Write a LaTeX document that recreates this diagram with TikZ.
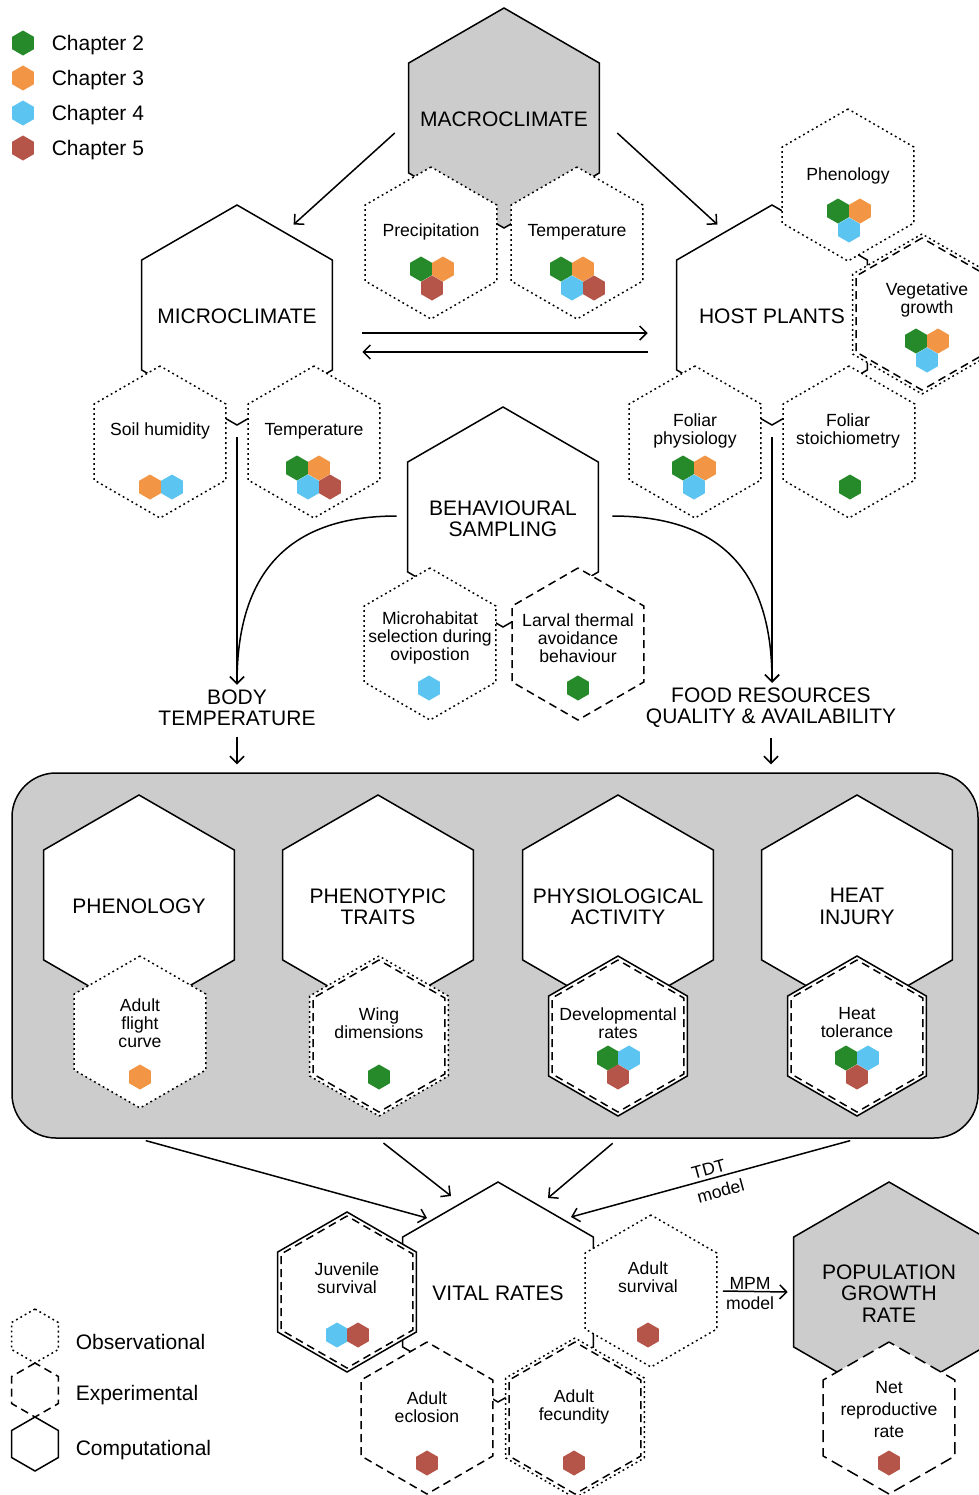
\documentclass[tikz,border=0pt]{standalone}
\usepackage{fontspec}
\setmainfont{Liberation Sans}
\usetikzlibrary{shapes.geometric,arrows.meta}
\definecolor{ctwo}{HTML}{268A2B}
\definecolor{cthree}{HTML}{F29545}
\definecolor{cfour}{HTML}{5BC4F1}
\definecolor{cfive}{HTML}{B5554A}
\definecolor{shade}{HTML}{CCCCCC}
\begin{document}
\begin{tikzpicture}[x=0.5pt,y=-0.5pt,line width=0.75pt,>={Straight Barb[length=3.5pt,width=7pt]},
hex/.style={regular polygon,regular polygon sides=6,shape border rotate=30,inner sep=0pt,outer sep=0pt},
bighex/.style={hex,draw,fill=white,minimum size=110pt},
smallhex/.style={hex,draw,fill=white,minimum size=76pt},
outerhex/.style={smallhex,minimum size=80pt},
obs/.style={dash pattern=on 0.9pt off 1.6pt},
expt/.style={dash pattern=on 4pt off 2.5pt},
chap/.style={hex,minimum size=12.5pt},
keyhex/.style={hex,draw,minimum size=27pt},
lab/.style={align=center,inner sep=0pt,yshift=-1pt,font=\fontsize{8.8}{9}\selectfont},
title/.style={align=center,inner sep=2pt,yshift=-0.8pt,font=\fontsize{10.5}{10.8}\selectfont}]

\useasboundingbox (0,0) rectangle (979,1495);

\draw (23,43) node[chap,fill=ctwo] (k2) {};
\draw (23,78) node[chap,fill=cthree] (k3) {};
\draw (23,113) node[chap,fill=cfour] (k4) {};
\draw (23,148) node[chap,fill=cfive] (k5) {};
\draw (47,43) node[title,anchor=west] (k2t) {Chapter 2};
\draw (47,78) node[title,anchor=west] (k3t) {Chapter 3};
\draw (47,113) node[title,anchor=west] (k4t) {Chapter 4};
\draw (47,148) node[title,anchor=west] (k5t) {Chapter 5};

\draw (504,118) node[bighex,fill=shade] (macro) {};
\draw (macro) node[title] (macrot) {MACROCLIMATE};
\draw (431,243) node[smallhex,obs] (precip) {};
\draw (577,243) node[smallhex,obs] (mtemp) {};
\draw (431,230) node[lab] (precipt) {Precipitation};
\draw (577,230) node[lab] (mtempt) {Temperature};
\draw (421,269) node[chap,fill=ctwo] (pr1) {};
\draw (443,269) node[chap,fill=cthree] (pr2) {};
\draw (432,288) node[chap,fill=cfive] (pr3) {};
\draw (561,269) node[chap,fill=ctwo] (mt1) {};
\draw (583,269) node[chap,fill=cthree] (mt2) {};
\draw (572,288) node[chap,fill=cfour] (mt3) {};
\draw (594,288) node[chap,fill=cfive] (mt4) {};

\draw (237,315) node[bighex] (micro) {};
\draw (micro) node[title] (microt) {MICROCLIMATE};
\draw (160,442) node[smallhex,obs] (soil) {};
\draw (314,442) node[smallhex,obs] (ctemp) {};
\draw (160,429) node[lab] (soilt) {Soil humidity};
\draw (314,429) node[lab] (ctempt) {Temperature};
\draw (150,487) node[chap,fill=cthree] (so1) {};
\draw (172,487) node[chap,fill=cfour] (so2) {};
\draw (297,468) node[chap,fill=ctwo] (ct1) {};
\draw (319,468) node[chap,fill=cthree] (ct2) {};
\draw (308,487) node[chap,fill=cfour] (ct3) {};
\draw (330,487) node[chap,fill=cfive] (ct4) {};

\draw (772,315) node[bighex] (host) {};
\draw (host) node[title] (hostt) {HOST PLANTS};
\draw (848,185) node[smallhex,obs] (hphen) {};
\draw (922,314) node[outerhex,obs] (vego) {};
\draw (922,314) node[smallhex,expt] (veg) {};
\draw (695,442) node[smallhex,obs] (fphys) {};
\draw (849,442) node[smallhex,obs] (fstoi) {};
\draw (848,174) node[lab] (hphent) {Phenology};
\draw (927,298) node[lab] (vegt) {Vegetative\\growth};
\draw (695,429) node[lab] (fphyst) {Foliar\\physiology};
\draw (848,429) node[lab] (fstoit) {Foliar\\stoichiometry};
\draw (838,211) node[chap,fill=ctwo] (hp1) {};
\draw (860,211) node[chap,fill=cthree] (hp2) {};
\draw (849,230) node[chap,fill=cfour] (hp3) {};
\draw (916,341) node[chap,fill=ctwo] (vg1) {};
\draw (938,341) node[chap,fill=cthree] (vg2) {};
\draw (927,360) node[chap,fill=cfour] (vg3) {};
\draw (683,468) node[chap,fill=ctwo] (fp1) {};
\draw (705,468) node[chap,fill=cthree] (fp2) {};
\draw (694,487) node[chap,fill=cfour] (fp3) {};
\draw (850,487) node[chap,fill=ctwo] (fs1) {};

\draw (503,517) node[bighex] (behav) {};
\draw (behav) node[title] (behavt) {BEHAVIOURAL\\SAMPLING};
\draw (430,644) node[smallhex,obs] (mhab) {};
\draw (578,644) node[smallhex,expt] (larv) {};
\draw (430,636) node[lab] (mhabt) {Microhabitat\\selection during\\ovipostion};
\draw (578,636) node[lab] (larvt) {Larval thermal\\avoidance\\behaviour};
\draw (429,688) node[chap,fill=cfour] (mh1) {};
\draw (578,688) node[chap,fill=ctwo] (lv1) {};

\draw (237,706) node[title] (bodytemp) {BODY\\TEMPERATURE};
\draw (771,706) node[title] (food) {FOOD RESOURCES\\QUALITY \& AVAILABILITY};

\draw (495,955.5) node[draw,fill=shade,rounded corners=22pt,minimum width=483pt,minimum height=182.5pt] (box) {};
\draw (139,905) node[bighex] (phen) {};
\draw (378,905) node[bighex] (traits) {};
\draw (618,905) node[bighex] (physio) {};
\draw (857,905) node[bighex] (injury) {};
\draw (phen) node[title] (phent) {PHENOLOGY};
\draw (traits) node[title] (traitst) {PHENOTYPIC\\TRAITS};
\draw (physio) node[title] (physiot) {PHYSIOLOGICAL\\ACTIVITY};
\draw (injury) node[title] (injuryt) {HEAT\\INJURY};
\draw (140,1032) node[smallhex,obs] (flight) {};
\draw (379,1036) node[outerhex,obs] (wingo) {};
\draw (379,1036) node[smallhex,expt] (wing) {};
\draw (618,1036) node[outerhex] (devo) {};
\draw (618,1036) node[smallhex,expt] (dev) {};
\draw (857,1036) node[outerhex] (tolo) {};
\draw (857,1036) node[smallhex,expt] (tol) {};
\draw (140,1021) node[lab] (flightt) {Adult\\flight\\curve};
\draw (379,1021) node[lab] (wingt) {Wing\\dimensions};
\draw (618,1021) node[lab] (devt) {Developmental\\rates};
\draw (857,1021) node[lab] (tolt) {Heat\\tolerance};
\draw (140,1077) node[chap,fill=cthree] (fl1) {};
\draw (379,1077) node[chap,fill=ctwo] (wg1) {};
\draw (608,1058) node[chap,fill=ctwo] (dv1) {};
\draw (629,1058) node[chap,fill=cfour] (dv2) {};
\draw (618,1077) node[chap,fill=cfive] (dv3) {};
\draw (846,1058) node[chap,fill=ctwo] (tl1) {};
\draw (868,1058) node[chap,fill=cfour] (tl2) {};
\draw (857,1077) node[chap,fill=cfive] (tl3) {};

\draw (498,1292) node[bighex] (vital) {};
\draw (vital) node[title] (vitalt) {VITAL RATES};
\draw (347,1292) node[outerhex] (juvo) {};
\draw (347,1292) node[smallhex,expt] (juv) {};
\draw (651,1291) node[smallhex,obs] (asurv) {};
\draw (427,1418) node[smallhex,expt] (eclos) {};
\draw (575,1418) node[outerhex,obs] (fecuo) {};
\draw (575,1418) node[smallhex,expt] (fecu) {};
\draw (347,1276) node[lab] (juvt) {Juvenile\\survival};
\draw (648,1275) node[lab] (asurvt) {Adult\\survival};
\draw (427,1405) node[lab] (eclost) {Adult\\eclosion};
\draw (574,1405) node[lab] (fecut) {Adult\\fecundity};
\draw (337,1335) node[chap,fill=cfour] (jv1) {};
\draw (358,1335) node[chap,fill=cfive] (jv2) {};
\draw (648,1335) node[chap,fill=cfive] (as1) {};
\draw (427,1463) node[chap,fill=cfive] (ec1) {};
\draw (574,1463) node[chap,fill=cfive] (fc1) {};

\draw (889,1292) node[bighex,fill=shade] (pop) {};
\draw (pop) node[title] (popt) {POPULATION\\GROWTH\\RATE};
\draw (889,1418) node[smallhex,dash pattern=on 6pt off 3pt] (netr) {};
\draw (889,1408) node[lab] (netrt) {Net\\[2pt]reproductive\\[2pt]rate};
\draw (889,1463) node[chap,fill=cfive] (nr1) {};

\draw (35,1336) node[keyhex,obs] (tobs) {};
\draw (35,1390) node[keyhex,expt] (texp) {};
\draw (35,1444) node[keyhex] (tcomp) {};
\draw (71,1340) node[title,anchor=west] (tobst) {Observational};
\draw (71,1393) node[title,anchor=west] (texpt) {Experimental};
\draw (71,1448) node[title,anchor=west] (tcompt) {Computational};

\draw[->] ([shift={(-14,15)}]macro.west) -- ([shift={(9,-8)}]micro.60);
\draw[->] ([shift={(18,15)}]macro.east) -- ([shift={(-7,-8)}]host.120);
\draw[->] ([shift={(30,18)}]micro.east) -- ([shift={(-29,18)}]host.west);
\draw[<-] ([shift={(30,37)}]micro.east) -- ([shift={(-29,37)}]host.west);
\draw[->] ([shift={(0,12)}]micro.south) -- (micro.south |- bodytemp.north);
\draw[->] ([shift={(0,12)}]host.south) -- (host.south |- food.north);
\draw[->] ([shift={(-11,-1)}]behav.west) .. controls +(-110,0) and +(0,-110) .. (micro.south |- bodytemp.north);
\draw[->] ([shift={(14,-1)}]behav.east) .. controls +(110,0) and +(0,-110) .. (host.south |- food.north);
\draw[->,shorten <=3pt,shorten >=4pt] (bodytemp.south) -- (bodytemp.south |- box.north);
\draw[->,shorten <=3pt,shorten >=4pt] (food.south) -- (food.south |- box.north);

\draw[->,shorten <=3.5pt] (phen.south |- box.south) -- ([shift={(-71,-74)}]vital.center);
\draw[->,shorten <=3.5pt] (traits.south |- box.south) -- ([shift={(-47,-96)}]vital.center);
\draw[->,shorten <=3.5pt] (physio.south |- box.south) -- ([shift={(50,-94)}]vital.center);
\draw[<-,shorten >=3.5pt] ([shift={(73,-75)}]vital.center) -- node[lab,sloped,above=2.5pt,pos=0.49] {TDT} node[lab,sloped,below=2.5pt,pos=0.51] {model} (injury.south |- box.south);
\draw[->] ([shift={(6,0)}]asurv.east) -- node[lab,above=1.5pt,pos=0.42] {MPM} node[lab,below=1.5pt,pos=0.42] {model} ([shift={(-6,0)}]pop.west);

\end{tikzpicture}
\end{document}
